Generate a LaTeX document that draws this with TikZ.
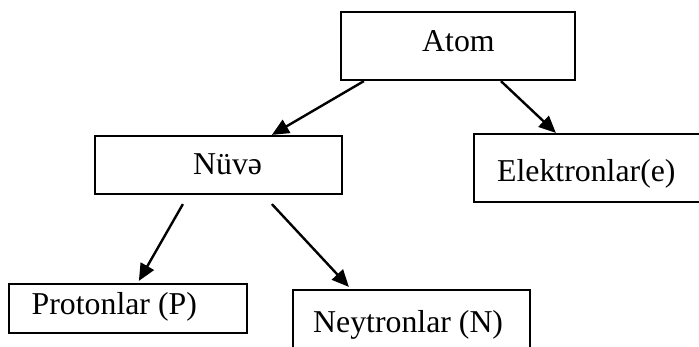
\documentclass[tikz,border=0pt]{standalone}
\usepackage{fontspec}
\setmainfont{Liberation Serif}
\usetikzlibrary{arrows.meta}
\begin{document}
\begin{tikzpicture}[x=1pt,y=-1pt,
  box/.style={draw=black,line width=2.2pt,rectangle,inner sep=0pt},
  lbl/.style={anchor=base west,inner sep=0pt,font=\fontsize{31.8}{38}\selectfont},
  conn/.style={line width=2.4pt,-{Triangle[length=17pt,width=15pt]}}]
\useasboundingbox (0,0) rectangle (699,347);
\clip (0,0) rectangle (699,347);
\fill[white] (0,0) rectangle (699,347);
\node[box,minimum width=234pt,minimum height=68pt] (atom) at (458,46) {};
\node[box,minimum width=247pt,minimum height=58pt] (nuve) at (218.5,165) {};
\node[box,minimum width=246pt,minimum height=68pt] (elek) at (597,168) {};
\node[box,minimum width=238pt,minimum height=49pt] (prot) at (128,308.5) {};
\node[box,minimum width=237pt,minimum height=80pt] (neyt) at (411.5,330) {};
\node[lbl] (tatom) at (422,52) {Atom};
\node[lbl] (tnuve) at (193,175) {Nüvə};
\node[lbl] (telek) at (497,181.5) {Elektronlar(e)};
\node[lbl] (tprot) at (31.5,315) {Protonlar (P)};
\node[lbl] (tneyt) at (313,333) {Neytronlar (N)};
\draw[conn] ([xshift=24pt]atom.south west) -- ([xshift=178pt]nuve.north west);
\draw[conn] ([xshift=161pt]atom.south west) -- ([xshift=83pt]elek.north west);
\draw[conn] ([xshift=89pt,yshift=-9pt]nuve.south west) -- ([xshift=131pt,yshift=2pt]prot.north west);
\draw[conn] ([xshift=178pt,yshift=-9pt]nuve.south west) -- ([xshift=57pt,yshift=2pt]neyt.north west);
\end{tikzpicture}
\end{document}
